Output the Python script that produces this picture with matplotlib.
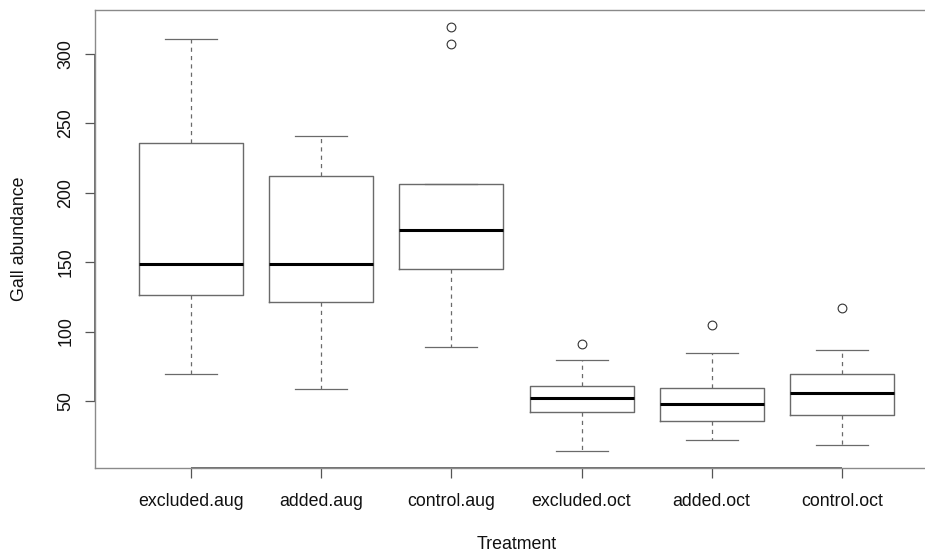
import matplotlib
matplotlib.use("Agg")
import matplotlib.pyplot as plt

plt.rcParams['font.family'] = ['Liberation Sans', 'DejaVu Sans']
plt.rcParams['lines.scale_dashes'] = False

categories = ["excluded.aug", "added.aug", "control.aug",
              "excluded.oct", "added.oct", "control.oct"]
whisker_low = [69.8, 58.7, 88.8, 14.0, 21.9, 18.1]
q1 = [126.5, 121.4, 145.2, 41.9, 35.9, 39.7]
median = [148.4, 148.4, 172.9, 52.0, 47.9, 55.8]
q3 = [235.6, 211.8, 206.3, 60.6, 59.7, 69.5]
whisker_high = [310.6, 240.9, 206.3, 79.6, 84.6, 86.4]
outliers = [[], [], [319.2, 307.2], [90.7], [104.6], [116.7]]
yticks = [50, 100, 150, 200, 250, 300]

stats = []
for i, name in enumerate(categories):
    stats.append(dict(label=name, whislo=whisker_low[i], q1=q1[i], med=median[i],
                      q3=q3[i], whishi=whisker_high[i], fliers=outliers[i]))

fig = plt.figure(figsize=(9.25, 5.54), dpi=100)
ax = fig.add_axes([95/925, (554-468)/554, (938-95)/925, 458/554])

line_col = '#6a6a6a'
ax.bxp(stats, positions=range(1, 7), widths=0.8, showfliers=True,
       boxprops=dict(color=line_col, linewidth=1.0),
       medianprops=dict(color='black', linewidth=2.2, solid_capstyle='butt'),
       whiskerprops=dict(color=line_col, linewidth=0.9, linestyle=(0, (3.0, 3.0))),
       capprops=dict(color=line_col, linewidth=0.9),
       capwidths=0.4,
       flierprops=dict(marker='o', markerfacecolor='none', markeredgecolor='#333333',
                       markersize=6.3, markeredgewidth=0.8, linestyle='none'))

lo = min(whisker_low + [v for o in outliers for v in o])
hi = max(whisker_high + [v for o in outliers for v in o])
pad = 0.04 * (hi - lo)
ax.set_ylim(lo - pad, hi + pad)
ax.set_xlim(0.26, 6.74)

for s in ax.spines.values():
    s.set_color('#8a8a8a')
    s.set_linewidth(1.0)

fs = 12.8
ax.set_yticks(yticks)
ax.set_yticklabels([str(v) for v in yticks], rotation=90, va='center')
ax.set_xticks(range(1, 7))
ax.set_xticklabels(categories)
ax.tick_params(axis='both', direction='out', length=7, width=0.9, color='#555555',
               labelsize=fs, labelcolor='#111111')
ax.tick_params(axis='x', pad=11)
ax.tick_params(axis='y', pad=8)

# R-style axis lines from first to last tick
ax.plot([1, 6], [0, 0], transform=ax.get_xaxis_transform(), color='#555555',
        lw=1.2, clip_on=False, solid_capstyle='butt')
ax.plot([0, 0], [yticks[0], yticks[-1]], transform=ax.get_yaxis_transform(),
        color='#555555', lw=1.2, clip_on=False, solid_capstyle='butt')

ax.set_xlabel("Treatment", fontsize=fs, labelpad=19, color='#111111')
ax.set_ylabel("Gall abundance", fontsize=fs, labelpad=21, color='#111111')

fig.savefig("out.png", dpi=100)
